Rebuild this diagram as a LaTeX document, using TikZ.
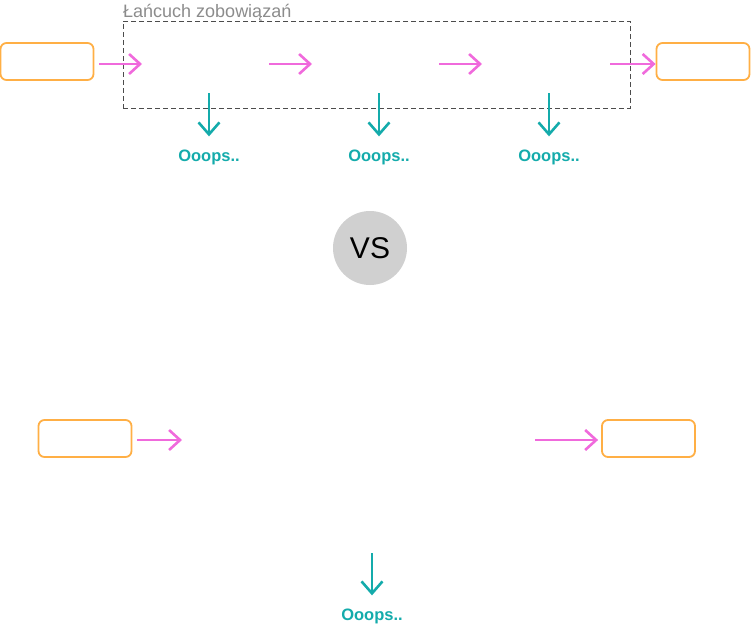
\documentclass[tikz,border=0pt]{standalone}
\usepackage{fontspec}
\setmainfont{Liberation Sans}
\usetikzlibrary{arrows.meta}
\definecolor{boxorange}{HTML}{FFAF45}
\definecolor{arrowpink}{HTML}{F06ADC}
\definecolor{oopsteal}{HTML}{14ABAB}
\definecolor{vsgray}{HTML}{D0D0D0}

\begin{document}
\begin{tikzpicture}[x=1pt,y=-1pt,
    endbox/.style={draw=boxorange, line width=1.8pt, rounded corners=6pt,
        minimum width=93pt, minimum height=37pt, inner sep=0pt},
    pinkarrow/.style={draw=arrowpink, line width=2.6pt,
        -{Straight Barb[length=11pt,width=20pt,line width=2.6pt]}},
    tealarrow/.style={draw=oopsteal, line width=2.6pt,
        -{Straight Barb[length=12pt,width=21pt,line width=2.6pt]}},
    oops/.style={text=oopsteal, font=\fontsize{16.5}{18}\selectfont\bfseries, inner sep=0pt}
]
    \useasboundingbox (0,0) rectangle (751,624);

    % Chain of obligations
    \node[anchor=base west, inner sep=0pt, text=black!45,
        font=\fontsize{18}{20}\selectfont] (chaintitle) at (123,17) {Łańcuch zobowiązań};
    \node[draw=black!70, dash pattern=on 5pt off 3pt, line width=0.9pt,
        minimum width=507pt, minimum height=87pt, inner sep=0pt] (chain) at (376.5,64.5) {};

    \node[endbox] (topin) at (47,61.5) {};
    \node[endbox] (topout) at (703,61.5) {};

    % pink steps
    \coordinate (p1s) at (99,64);  \coordinate (p1e) at (142,64);
    \coordinate (p2s) at (269,64); \coordinate (p2e) at (312,64);
    \coordinate (p3s) at (439,64); \coordinate (p3e) at (482,64);
    \coordinate (p4s) at (610,64);
    \draw[pinkarrow] (p1s) -- (p1e);
    \draw[pinkarrow] (p2s) -- (p2e);
    \draw[pinkarrow] (p3s) -- (p3e);
    \draw[pinkarrow] (p4s) -- (p4s -| topout.west);

    % failures
    \foreach \x/\n in {209/a, 379/b, 549/c} {
        \coordinate (f\n) at (\x,93);
        \node[oops] (oops\n) at (\x,157) {Ooops..};
        \draw[tealarrow] (f\n) -- ([yshift=13pt]oops\n.north);
    }

    % VS
    \node[circle, fill=vsgray, minimum size=74pt, inner sep=0pt,
        font=\fontsize{30}{32}\selectfont] (vs) at (370,248) {VS};

    % Single step
    \node[endbox] (botin) at (85,438.5) {};
    \node[endbox] (botout) at (648.5,438.5) {};
    \coordinate (q1e) at (182,440);
    \coordinate (q2s) at (535,440);
    \draw[pinkarrow] ([xshift=5pt]botin.east |- q1e) -- (q1e);
    \draw[pinkarrow] (q2s) -- ([xshift=-3pt]botout.west |- q2s);

    \coordinate (fd) at (372,553);
    \node[oops] (oopsd) at (372,616) {Ooops..};
    \draw[tealarrow] (fd) -- ([yshift=13pt]oopsd.north);
\end{tikzpicture}
\end{document}
